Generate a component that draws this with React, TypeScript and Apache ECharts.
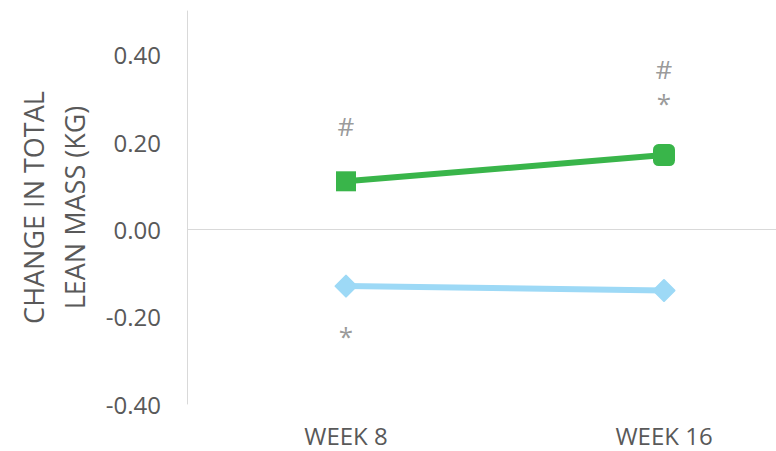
import React, { useEffect, useRef } from "react";
import * as echarts from "echarts";

const categories = ["WEEK 8", "WEEK 16"];
const greenSeries = [0.11, 0.17];
const blueSeries = [-0.13, -0.14];
const greenSymbols = ["rect", "roundRect"];
const annotationCats = ["WEEK 8", "WEEK 16", "WEEK 16", "WEEK 8"];
const annotationValues = [0.236, 0.367, 0.29, -0.245];
const annotationTexts = ["#", "#", "*", "*"];

const FONT = "Open Sans";
const TEXT = "#595959";

export default function App() {
  const ref = useRef<HTMLDivElement>(null);
  useEffect(() => {
    if (!ref.current) return;
    const chart = echarts.init(ref.current, null, { renderer: "svg" });
    chart.setOption({
      animation: false,
      grid: { left: 187, top: 11, right: 0, bottom: 47, containLabel: false },
      xAxis: {
        type: "category",
        data: categories,
        boundaryGap: true,
        axisLine: { show: false },
        axisTick: { show: false },
        axisLabel: { color: TEXT, fontFamily: FONT, fontSize: 24, lineHeight: 24, margin: 19 },
        splitLine: { show: false },
      },
      yAxis: {
        type: "value",
        min: -0.4,
        max: 0.5,
        interval: 0.2,
        name: "CHANGE IN TOTAL\nLEAN MASS (KG)",
        nameLocation: "middle",
        nameGap: 88,
        nameTextStyle: { color: TEXT, fontFamily: FONT, fontSize: 27, lineHeight: 41, align: "center" },
        axisLine: { show: true, lineStyle: { color: "#d9d9d9", width: 1 } },
        axisTick: { show: false },
        splitLine: { show: false },
        axisLabel: {
          color: TEXT,
          fontFamily: FONT,
          fontSize: 24,
          margin: 26,
          showMaxLabel: false,
          formatter: (v: number) => v.toFixed(2),
        },
      },
      series: [
        {
          type: "line",
          data: greenSeries.map((v, i) => ({
            value: v,
            symbol: greenSymbols[i],
            symbolSize: greenSymbols[i] === "rect" ? 20 : 22,
          })),
          lineStyle: { color: "#39b54a", width: 6 },
          itemStyle: { color: "#39b54a" },
          z: 3,
          markLine: {
            silent: true,
            symbol: "none",
            label: { show: false },
            lineStyle: { color: "#d9d9d9", width: 1, type: "solid" },
            data: [{ yAxis: 0 }],
          },
        },
        {
          type: "line",
          data: blueSeries,
          symbol: "diamond",
          symbolSize: 21,
          lineStyle: { color: "#9dd9f6", width: 6 },
          itemStyle: { color: "#9dd9f6", borderColor: "#9dd9f6", borderWidth: 2, borderJoin: "round" },
          z: 3,
        },
        {
          type: "scatter",
          data: annotationCats.map((c, i) => [c, annotationValues[i]]),
          symbolSize: 1,
          itemStyle: { color: "rgba(0,0,0,0)" },
          label: {
            show: true,
            position: "inside",
            color: "#7f7f7f",
            fontFamily: FONT,
            fontSize: 26,
            formatter: (p: any) => annotationTexts[p.dataIndex],
          },
          z: 4,
        },
      ],
    });
    return () => chart.dispose();
  }, []);
  return (
    <div style={{ width: 776, height: 451, position: "absolute", left: 0, top: 0, overflow: "hidden" }}>
      <div ref={ref} style={{ width: 823, height: 451 }} />
    </div>
  );
}
